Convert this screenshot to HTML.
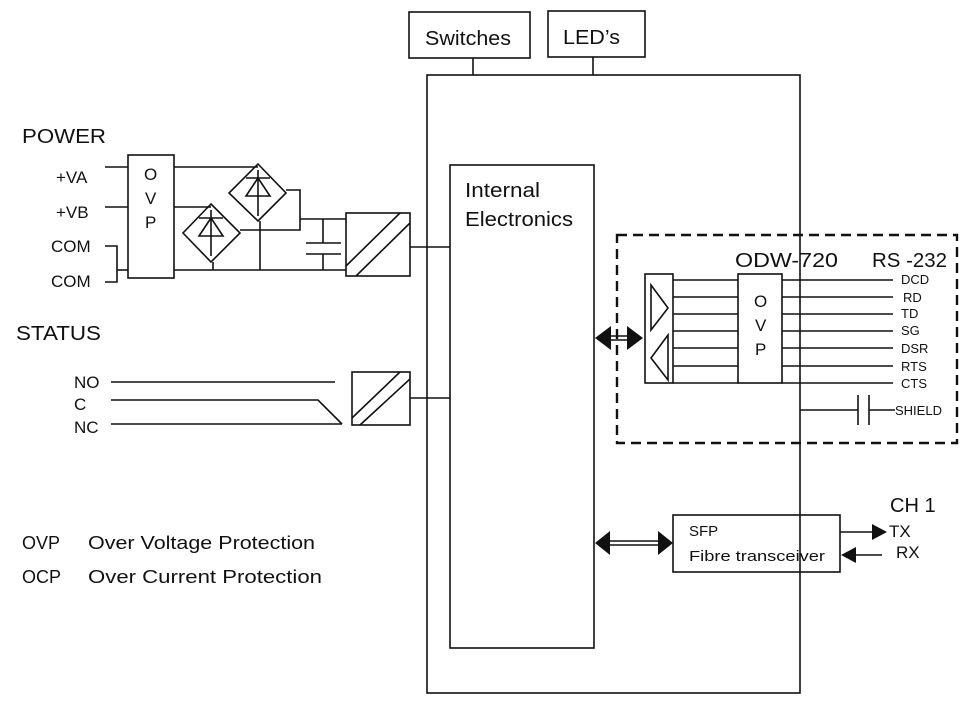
<!DOCTYPE html>
<html><head><meta charset="utf-8"><style>
html,body{margin:0;padding:0;background:#fff;}
svg{display:block;}
text{font-family:"Liberation Sans",sans-serif;fill:#111;}
</style></head><body>
<svg width="975" height="702" viewBox="0 0 975 702" xmlns="http://www.w3.org/2000/svg">
<g fill="none" stroke="#111" stroke-width="1.6">
<rect x="409" y="12" width="121" height="46"/>
<rect x="548" y="11" width="97" height="46"/>
<line x1="473" y1="58" x2="473" y2="75"/>
<line x1="593" y1="57" x2="593" y2="75"/>
<rect x="427" y="75" width="373" height="618"/>
<rect x="450" y="165" width="144" height="483"/>
<rect x="128" y="155" width="46" height="123"/>
<line x1="105" y1="167" x2="128" y2="167"/>
<line x1="105" y1="207" x2="128" y2="207"/>
<polyline points="105,246 117,246 117,282 105,282"/>
<line x1="117" y1="270" x2="128" y2="270"/>
<line x1="174" y1="167" x2="258" y2="167"/>
<line x1="174" y1="207" x2="211" y2="207"/>
<line x1="174" y1="270" x2="346" y2="270"/>
<polygon points="258,164 286,193 258,221 229,193"/>
<polygon points="211,204 240,233 211,262 183,233"/>
<line x1="258" y1="170" x2="258" y2="216"/><line x1="246" y1="178" x2="270" y2="178"/><polygon points="258,178 246,196 270,196"/>
<line x1="211" y1="210" x2="211" y2="256"/><line x1="199" y1="218" x2="223" y2="218"/><polygon points="211,218 199,236 223,236"/>
<polyline points="286,190 300,190 300,230 240,230"/>
<line x1="260" y1="221" x2="260" y2="270"/>
<line x1="213" y1="262" x2="213" y2="270"/>
<line x1="300" y1="219" x2="346" y2="219"/>
<line x1="323" y1="219" x2="323" y2="243"/><line x1="323" y1="254" x2="323" y2="270"/>
<line x1="306" y1="243" x2="341" y2="243"/><line x1="306" y1="254" x2="341" y2="254"/>
<rect x="346" y="213" width="64" height="63"/>
<line x1="346" y1="266" x2="400" y2="213"/><line x1="356" y1="276" x2="410" y2="223"/>
<line x1="410" y1="247" x2="450" y2="247"/>
<line x1="111" y1="382" x2="335" y2="382"/>
<polyline points="111,400 318,400 342,424"/>
<line x1="111" y1="424" x2="342" y2="424"/>
<rect x="352" y="372" width="58" height="53"/>
<line x1="352" y1="418" x2="400" y2="372"/><line x1="360" y1="425" x2="410" y2="379"/>
<line x1="410" y1="398" x2="450" y2="398"/>
<rect x="617" y="235" width="340" height="208" stroke-dasharray="10,6" stroke-width="2.4"/>
<rect x="645" y="274" width="28" height="109"/>
<rect x="738" y="274" width="44" height="109"/>
<polygon points="651,285 668,308 651,330"/>
<polygon points="668,335 651,358 668,380"/>
<g>
<line x1="673" y1="280" x2="738" y2="280"/><line x1="673" y1="297" x2="738" y2="297"/><line x1="673" y1="314" x2="738" y2="314"/><line x1="673" y1="331" x2="738" y2="331"/><line x1="673" y1="348" x2="738" y2="348"/><line x1="673" y1="366" x2="738" y2="366"/><line x1="673" y1="383" x2="738" y2="383"/>
<line x1="782" y1="280" x2="893" y2="280"/><line x1="782" y1="297" x2="893" y2="297"/><line x1="782" y1="314" x2="893" y2="314"/><line x1="782" y1="331" x2="893" y2="331"/><line x1="782" y1="348" x2="893" y2="348"/><line x1="782" y1="366" x2="893" y2="366"/><line x1="782" y1="383" x2="893" y2="383"/>
</g>
<line x1="800" y1="410" x2="858" y2="410"/><line x1="858" y1="395" x2="858" y2="425"/><line x1="869" y1="395" x2="869" y2="425"/><line x1="869" y1="410" x2="895" y2="410"/>
<line x1="605" y1="336" x2="633" y2="336"/><line x1="605" y1="340" x2="633" y2="340"/>
<line x1="605" y1="541" x2="660" y2="541"/><line x1="605" y1="545" x2="660" y2="545"/>
<rect x="673" y="515" width="167" height="57"/>
<line x1="840" y1="532" x2="875" y2="532"/>
<line x1="852" y1="555" x2="882" y2="555"/>
</g>
<g fill="#111">
<polygon points="595,338 611,326 611,350"/><polygon points="643,338 627,326 627,350"/>
<polygon points="595,543 610,531 610,555"/><polygon points="673,543 658,531 658,555"/>
<polygon points="887,532 872,524 872,540"/>
<polygon points="841,555 856,547 856,563"/>
</g>
<g font-size="20" lengthAdjust="spacingAndGlyphs">
<text x="425" y="45" textLength="86" lengthAdjust="spacingAndGlyphs">Switches</text>
<text x="563" y="44" textLength="57" lengthAdjust="spacingAndGlyphs">LED’s</text>
<text x="465" y="197" textLength="75" lengthAdjust="spacingAndGlyphs">Internal</text>
<text x="465" y="226" textLength="108" lengthAdjust="spacingAndGlyphs">Electronics</text>
<text x="22" y="143" textLength="84" lengthAdjust="spacingAndGlyphs">POWER</text>
<text x="16" y="340" textLength="85" lengthAdjust="spacingAndGlyphs">STATUS</text>
</g>
<g font-size="17">
<text x="56" y="183">+VA</text>
<text x="56" y="218">+VB</text>
<text x="51" y="252">COM</text>
<text x="51" y="287">COM</text>
<text x="144" y="180">O</text><text x="145" y="204">V</text><text x="145" y="228">P</text>
<text x="754" y="307">O</text><text x="755" y="331">V</text><text x="755" y="355">P</text>
<text x="74" y="388">NO</text>
<text x="74" y="410">C</text>
<text x="74" y="433">NC</text>
<text x="22" y="549" font-size="18">OVP</text><text x="88" y="549" font-size="18" textLength="227" lengthAdjust="spacingAndGlyphs">Over Voltage Protection</text>
<text x="22" y="583" font-size="18">OCP</text><text x="88" y="583" font-size="18" textLength="234" lengthAdjust="spacingAndGlyphs">Over Current Protection</text>
<text x="689" y="536" font-size="15">SFP</text>
<text x="689" y="561" font-size="15" textLength="136" lengthAdjust="spacingAndGlyphs">Fibre transceiver</text>
<text x="889" y="537">TX</text>
<text x="896" y="558">RX</text>
</g>
<text x="890" y="512" font-size="20">CH 1</text>
<text x="735" y="267" font-size="20" textLength="103" lengthAdjust="spacingAndGlyphs">ODW-720</text>
<text x="872" y="267" font-size="20" textLength="75" lengthAdjust="spacingAndGlyphs">RS -232</text>
<g font-size="13">
<text x="901" y="284">DCD</text>
<text x="903" y="302">RD</text>
<text x="901" y="318">TD</text>
<text x="901" y="335">SG</text>
<text x="901" y="353">DSR</text>
<text x="901" y="371">RTS</text>
<text x="901" y="388">CTS</text>
<text x="895" y="415">SHIELD</text>
</g>
</svg>
</body></html>
